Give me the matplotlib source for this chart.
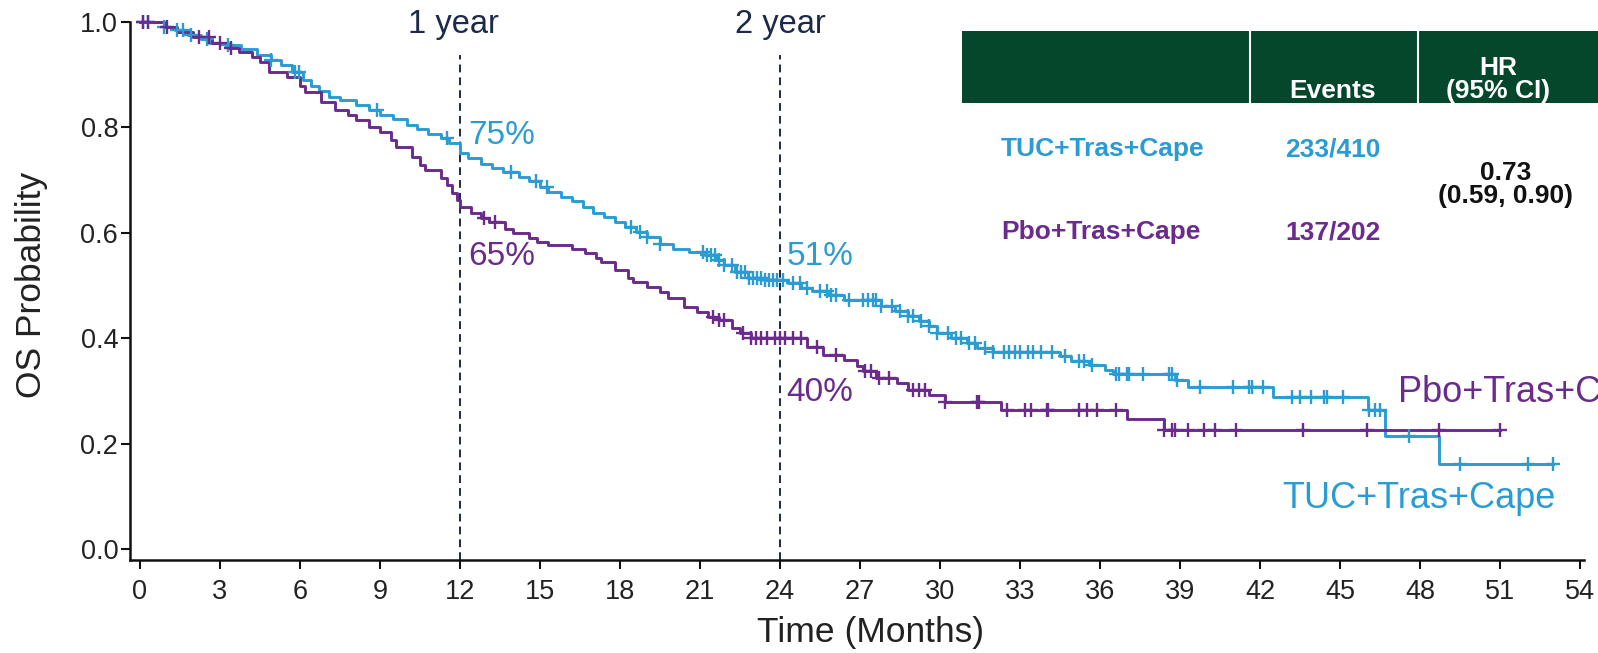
import numpy as np
import matplotlib
matplotlib.use("Agg")
import matplotlib.pyplot as plt
from matplotlib.patches import Rectangle
from matplotlib.lines import Line2D

plt.rcParams["font.family"] = ["Liberation Sans", "DejaVu Sans"]

# ---- Kaplan-Meier step data (time in months, survival after the step) ----
tuc_times = [0, 0.9, 1.3, 1.8, 2.3, 2.6, 3.2, 3.8, 4.4, 4.9, 5.3, 5.7, 6.1, 6.4, 6.7,
             7.1, 7.5, 8.1, 8.6, 9.0, 9.5, 10.0, 10.4, 10.8, 11.3, 11.6, 12.0, 12.3,
             12.8, 13.2, 13.6, 14.2, 14.6, 15.0, 15.3, 15.8, 16.2, 16.6, 17.0, 17.4,
             17.8, 18.2, 18.6, 19.0, 19.5, 20.0, 20.6, 21.2, 21.6, 21.9, 22.3, 22.8,
             23.4, 24.3, 24.8, 25.2, 25.8, 26.4, 27.8, 28.3, 28.8, 29.2, 29.6, 29.9,
             30.4, 31.0, 31.4, 32.0, 34.5, 34.9, 35.6, 36.2, 36.5, 38.8, 39.3, 42.5,
             46.05, 46.7, 48.7]
tuc_surv = [1.0, 0.99, 0.984, 0.975, 0.967, 0.959, 0.955, 0.948, 0.937, 0.927, 0.918,
            0.905, 0.89, 0.878, 0.868, 0.858, 0.851, 0.843, 0.833, 0.823, 0.815, 0.805,
            0.797, 0.788, 0.779, 0.77, 0.752, 0.741, 0.731, 0.722, 0.715, 0.705, 0.698,
            0.687, 0.678, 0.668, 0.66, 0.649, 0.638, 0.63, 0.621, 0.61, 0.602, 0.592,
            0.579, 0.57, 0.564, 0.557, 0.548, 0.538, 0.526, 0.515, 0.51, 0.504, 0.496,
            0.489, 0.482, 0.472, 0.462, 0.452, 0.442, 0.432, 0.423, 0.41, 0.40, 0.39,
            0.381, 0.374, 0.366, 0.357, 0.35, 0.34, 0.333, 0.321, 0.308, 0.289, 0.264,
            0.215, 0.161]
tuc_censored = [0.1, 0.3, 0.9, 1.4, 1.6, 1.9, 2.5, 3.3, 4.9, 5.8, 5.95, 8.9, 11.5, 13.9,
                14.85, 15.25, 18.4, 18.75, 19.0, 19.5, 21.1, 21.25, 21.4, 21.55, 21.7,
                21.9, 22.2, 22.4, 22.55, 22.7, 22.85, 23.0, 23.15, 23.3, 23.45, 23.6,
                23.75, 23.9, 24.1, 24.5, 24.75, 25.0, 25.5, 25.75, 25.9, 26.1, 26.6,
                27.1, 27.3, 27.5, 27.6, 27.8, 28.2, 28.5, 28.8, 29.0, 29.3, 29.6, 29.9,
                30.3, 30.6, 30.8, 31.1, 31.3, 31.7, 32.0, 32.4, 32.6, 32.8, 33.0, 33.3,
                33.5, 33.8, 34.2, 34.7, 35.2, 35.4, 35.7, 36.6, 36.7, 37.0, 37.1, 37.6,
                38.6, 38.7, 38.9, 39.75, 41.0, 41.6, 41.7, 42.1, 43.2, 43.5, 43.9, 44.4,
                44.5, 45.1, 46.1, 46.3, 46.5, 47.6, 49.5, 52.05, 53.0]

pbo_times = [0, 0.9, 1.4, 2.0, 2.7, 3.3, 3.7, 4.2, 4.5, 4.85, 5.5, 6.0, 6.2, 6.8, 7.3,
             7.8, 8.1, 8.6, 9.0, 9.4, 9.6, 10.2, 10.5, 10.7, 11.3, 11.5, 11.7, 11.9,
             12.0, 12.4, 12.8, 13.1, 13.7, 14.0, 14.6, 14.9, 15.3, 16.2, 16.7, 17.1,
             17.3, 17.8, 18.3, 18.5, 19.0, 19.5, 19.8, 20.4, 20.9, 21.3, 21.7, 22.2,
             22.5, 22.9, 25.0, 25.6, 26.4, 26.9, 27.1, 27.6, 28.4, 28.8, 29.6, 30.2,
             32.3, 37.0, 38.4]
pbo_surv = [1.0, 0.99, 0.981, 0.972, 0.959, 0.95, 0.943, 0.933, 0.924, 0.905, 0.896,
            0.878, 0.867, 0.848, 0.833, 0.824, 0.814, 0.80, 0.791, 0.775, 0.763, 0.744,
            0.728, 0.719, 0.704, 0.69, 0.675, 0.662, 0.649, 0.637, 0.628, 0.621, 0.608,
            0.599, 0.59, 0.583, 0.577, 0.570, 0.561, 0.553, 0.545, 0.529, 0.515, 0.507,
            0.498, 0.487, 0.476, 0.46, 0.45, 0.441, 0.434, 0.42, 0.409, 0.40, 0.384,
            0.368, 0.359, 0.347, 0.337, 0.324, 0.315, 0.302, 0.292, 0.28, 0.264, 0.246,
            0.226]
pbo_censored = [0.1, 0.3, 1.0, 2.2, 2.6, 3.0, 3.4, 12.9, 13.3, 21.5, 21.7, 21.9, 22.6,
                22.9, 23.1, 23.3, 23.5, 23.8, 24.0, 24.2, 24.5, 24.8, 25.4, 26.1, 27.2,
                27.4, 27.7, 28.1, 29.0, 29.2, 29.45, 30.2, 31.4, 31.45, 32.5, 33.2, 33.4,
                34.0, 34.05, 35.2, 35.5, 35.9, 36.6, 38.4, 38.7, 38.8, 39.3, 39.9, 40.3,
                41.1, 43.6, 46.0, 48.7, 51.0]

# ---- Labels ----
arm_names = ["TUC+Tras+Cape", "Pbo+Tras+Cape"]
events = ["233/410", "137/202"]
hazard_ratio = "0.73"
hr_ci = "(0.59, 0.90)"
landmark_months = [12, 24]
landmark_names = ["1 year", "2 year"]
landmark_pct = {"TUC+Tras+Cape": ["75%", "51%"], "Pbo+Tras+Cape": ["65%", "40%"]}
x_ticks = list(range(0, 55, 3))
y_ticks = [0.0, 0.2, 0.4, 0.6, 0.8, 1.0]

BLUE = "#2B9BD3"
PURPLE = "#6A2B8C"
NAVY = "#1C2A48"
GREEN = "#04472A"

fig = plt.figure(figsize=(15.98, 6.53), dpi=100)
ax = fig.add_axes([0.08135, 0.1424, 0.9099, 0.8243])


def km_curve(times, surv, censored, color):
    end = max(censored)
    xs = np.append(times, end)
    ys = np.append(surv, surv[-1])
    ax.plot(xs, ys, drawstyle="steps-post", color=color, lw=2.1, clip_on=False, zorder=3)
    idx = np.searchsorted(times, censored, side="right") - 1
    cy = np.asarray(surv)[idx]
    ax.plot(censored, cy, ls="none", marker="+", ms=10, mew=1.7, color=color,
            clip_on=False, zorder=4)


km_curve(tuc_times, tuc_surv, tuc_censored, BLUE)
km_curve(pbo_times, pbo_surv, pbo_censored, PURPLE)

# landmark lines
for m, name in zip(landmark_months, landmark_names):
    ax.plot([m, m], [-0.0205, 0.937], color=NAVY, lw=1.4, ls=(0, (4, 2.6)), zorder=2,
            clip_on=False)
ax.text(11.75, 0.995, landmark_names[0], ha="center", va="center", fontsize=23.5, color=NAVY)
ax.text(24.0, 0.995, landmark_names[1], ha="center", va="center", fontsize=23.5, color=NAVY)

# landmark percentages
pct_kw = dict(ha="left", va="center", fontsize=24)
ax.text(12.3, 0.784, landmark_pct[arm_names[0]][0], color=BLUE, **pct_kw)
ax.text(12.3, 0.554, landmark_pct[arm_names[1]][0], color=PURPLE, **pct_kw)
ax.text(24.25, 0.554, landmark_pct[arm_names[0]][1], color=BLUE, **pct_kw)
ax.text(24.25, 0.297, landmark_pct[arm_names[1]][1], color=PURPLE, **pct_kw)

# curve labels
ax.text(47.17, 0.298, arm_names[1], ha="left", va="center", fontsize=26, color=PURPLE,
        clip_on=False)
ax.text(42.82, 0.0965, arm_names[0], ha="left", va="center", fontsize=26, color=BLUE)

# axes styling
ax.set_xlim(-0.375, 54.15)
ax.set_ylim(-0.0205, 1.0)
ax.set_xticks(x_ticks)
ax.set_yticks(y_ticks)
ax.set_yticklabels([f"{v:.1f}" for v in y_ticks])
for s in ["top", "right"]:
    ax.spines[s].set_visible(False)
for s in ["left", "bottom"]:
    ax.spines[s].set_linewidth(1.8)
    ax.spines[s].set_color("#111111")
ax.tick_params(axis="both", direction="out", length=6.5, width=1.5, color="#111111",
               labelsize=19.5, labelcolor="#222222")
ax.tick_params(axis="x", pad=7)
ax.tick_params(axis="y", pad=2)
ax.set_xlabel("Time (Months)", fontsize=25.5, color="#222222", va="center")
ax.xaxis.set_label_coords(0.509, -0.134)
ax.set_ylabel("OS Probability", fontsize=25.5, color="#222222", va="center")
ax.yaxis.set_label_coords(-0.068, 0.511)

# ---- summary table ----
fig.add_artist(Rectangle((0.602, 0.8423), 0.398, 0.1109, transform=fig.transFigure,
                         facecolor=GREEN, edgecolor="none", zorder=5))
for xf in [0.7822, 0.8874]:
    fig.add_artist(Line2D([xf, xf], [0.8423, 0.9532], transform=fig.transFigure,
                          color="white", lw=1.5, zorder=6))

tfont = ["Liberation Sans Narrow", "Liberation Sans", "DejaVu Sans"]
tkw = dict(ha="center", va="center", fontsize=19, fontweight="bold", family=tfont, zorder=7)
fig.text(0.8342, 0.8600, "Events", color="white", **tkw)
fig.text(0.9374, 0.8960, "HR", color="white", **tkw)
fig.text(0.9374, 0.8600, "(95% CI)", color="white", **tkw)
fig.text(0.6902, 0.7718, arm_names[0], color=BLUE, **tkw)
fig.text(0.8342, 0.7718, events[0], color=BLUE, **tkw)
fig.text(0.6890, 0.6447, arm_names[1], color=PURPLE, **tkw)
fig.text(0.8342, 0.6447, events[1], color=PURPLE, **tkw)
fig.text(0.9424, 0.7351, hazard_ratio, color="#111111", **tkw)
fig.text(0.9424, 0.6998, hr_ci, color="#111111", **tkw)

fig.savefig("out.png", dpi=100, facecolor="white")
